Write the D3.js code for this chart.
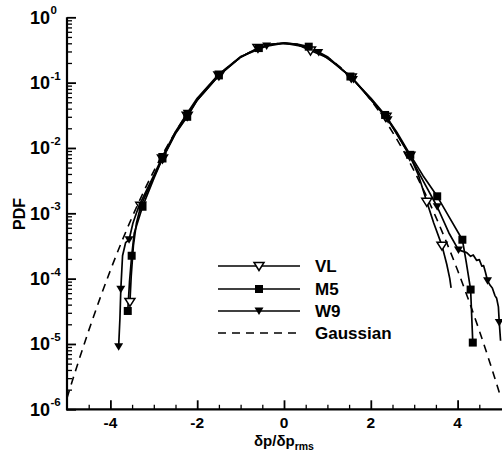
<!DOCTYPE html>
<html><head><meta charset="utf-8">
<script src="https://cdn.jsdelivr.net/npm/d3@7"></script>
<style>
body{margin:0;background:#fff;}
text{font-family:"Liberation Sans",Arial,Helvetica,sans-serif;font-weight:bold;fill:#000;}
</style></head>
<body><svg id="c" width="502" height="455"></svg>
<script>
// ---- data ----
const xTicks = [-4, -2, 0, 2, 4];
const xTickLabels = ["-4", "-2", "0", "2", "4"];
const yExponents = [0, -1, -2, -3, -4, -5, -6];
const seriesNames = ["VL", "M5", "W9", "Gaussian"];

const gaussX = [-5,-4.75,-4.5,-4.25,-4,-3.75,-3.5,-3.25,-3,-2.75,-2.5,-2.25,-2,-1.75,-1.5,-1.25,-1,-0.75,-0.5,-0.25,0,0.25,0.5,0.75,1,1.25,1.5,1.75,2,2.25,2.5,2.75,3,3.25,3.5,3.75,4,4.25,4.5,4.75,5];
const gaussY = [1.49e-6,5.03e-6,1.60e-5,4.77e-5,1.34e-4,3.53e-4,8.73e-4,2.03e-3,4.43e-3,9.09e-3,1.75e-2,3.17e-2,5.40e-2,8.63e-2,0.1295,0.1826,0.2420,0.3011,0.3521,0.3867,0.3989,0.3867,0.3521,0.3011,0.2420,0.1826,0.1295,8.63e-2,5.40e-2,3.17e-2,1.75e-2,9.09e-3,4.43e-3,2.03e-3,8.73e-4,3.53e-4,1.34e-4,4.77e-5,1.60e-5,5.03e-6,1.49e-6];

const vlX = [-3.55,-3.52,-3.47,-3.40,-3.30,-3.00,-2.80,-2.50,-2.23,-2.00,-1.50,-1.00,-0.60,-0.30,0,0.30,0.61,1.00,1.55,2.00,2.35,2.60,2.90,3.10,3.29,3.45,3.64,3.75,3.82,3.85];
const vlY = [4.4e-5,1.1e-4,3.2e-4,7.1e-4,1.3e-3,3.6e-3,6.9e-3,0.017,0.031,0.054,0.129,0.245,0.34,0.385,0.403,0.385,0.31,0.24,0.12,0.056,0.030,0.0166,0.0076,0.0038,1.5e-3,7.1e-4,3.2e-4,1.66e-4,1.0e-4,7.2e-5];
const vlMark = [1,0,0,0,1,0,1,0,1,0,1,0,1,0,0,0,1,0,1,0,1,0,1,0,1,0,1,0,0,0];

const m5X = [-3.60,-3.56,-3.51,-3.45,-3.26,-3.00,-2.80,-2.50,-2.23,-2.00,-1.50,-1.00,-0.58,-0.30,0,0.30,0.57,1.00,1.53,2.00,2.33,2.60,2.91,3.20,3.53,3.80,4.11,4.20,4.30,4.35];
const m5Y = [3.2e-5,8.9e-5,2.24e-4,5.0e-4,1.26e-3,3.4e-3,6.9e-3,0.0166,0.030,0.054,0.129,0.245,0.338,0.385,0.403,0.39,0.355,0.25,0.124,0.058,0.032,0.0174,0.00785,0.0038,0.00182,8.9e-4,3.94e-4,1.78e-4,6.8e-5,1.05e-5];
const m5Mark = [1,0,1,0,1,0,1,0,1,0,1,0,1,0,0,0,1,0,1,0,1,0,1,0,1,0,1,0,1,1];

const w9X = [-3.81,-3.78,-3.76,-3.72,-3.65,-3.57,-3.48,-3.35,-3.00,-2.80,-2.50,-2.23,-2.00,-1.50,-1.00,-0.40,0,0.40,0.80,1.20,1.60,2.00,2.40,2.90,3.20,3.53,3.80,4.02,4.21,4.30,4.36,4.44,4.50,4.56,4.60,4.64,4.69,4.75,4.80,4.86,4.90,4.94,4.96,4.99];
const w9Y = [9.1e-6,2.5e-5,6.9e-5,2.24e-4,3.55e-4,3.94e-4,7.1e-4,1.26e-3,3.8e-3,7.4e-3,0.0178,0.034,0.0575,0.135,0.25,0.363,0.403,0.363,0.29,0.19,0.112,0.055,0.027,0.0076,0.0032,1.26e-3,5.0e-4,2.75e-4,2.5e-4,2.2e-4,2.3e-4,1.9e-4,1.95e-4,1.55e-4,1.58e-4,1.26e-4,9.3e-5,7.9e-5,7.2e-5,5.5e-5,5.0e-5,3.7e-5,2.14e-5,1.12e-5];
const w9Mark = [1,0,1,0,0,1,0,0,0,1,0,1,0,1,0,1,0,0,1,0,1,0,1,0,0,1,0,1,0,0,0,0,0,0,0,0,1,0,0,0,0,0,1,0];

// ---- layout ----
const svg = d3.select("#c");
const L = 67, R = 501, T = 17.3, B = 409.3;
const x = d3.scaleLinear().domain([-5, 5]).range([L, R]);
const y = d3.scaleLog().domain([1e-6, 1]).range([B, T]);

svg.append("defs").append("clipPath").attr("id","clp")
  .append("rect").attr("x", L).attr("y", T - 5).attr("width", R - L + 2).attr("height", B - T + 5);

// axes lines
svg.append("line").attr("x1", L).attr("x2", L).attr("y1", T).attr("y2", B + 1)
  .attr("stroke", "#000").attr("stroke-width", 2.2);
svg.append("line").attr("x1", L - 1).attr("x2", 502).attr("y1", B).attr("y2", B)
  .attr("stroke", "#000").attr("stroke-width", 2.2);

// y ticks (inward)
const yMajor = yExponents.map(e => Math.pow(10, e));
svg.append("g").attr("transform", `translate(${L},0)`)
  .call(d3.axisRight(y).tickValues(yMajor).tickSize(9).tickFormat(""))
  .call(g => g.select(".domain").remove())
  .call(g => g.selectAll("line").attr("stroke-width", 1.8));
const yMinor = [];
for (let e = -6; e < 0; e++) for (let k = 2; k <= 9; k++) yMinor.push(k * Math.pow(10, e));
svg.append("g").attr("transform", `translate(${L},0)`)
  .call(d3.axisRight(y).tickValues(yMinor).tickSize(5).tickFormat(""))
  .call(g => g.select(".domain").remove())
  .call(g => g.selectAll("line").attr("stroke-width", 1.3));

// y labels with superscripts
yExponents.forEach(e => {
  svg.append("text").attr("x", 50).attr("y", y(Math.pow(10, e)) + 6.5)
    .attr("text-anchor", "end").attr("font-size", 18).text("10");
  svg.append("text").attr("x", 50.5).attr("y", y(Math.pow(10, e)) - 3)
    .attr("font-size", 11.5).text(String(e));
});

// x ticks (inward)
svg.append("g").attr("transform", `translate(0,${B})`)
  .call(d3.axisTop(x).tickValues(xTicks).tickSize(9).tickFormat(""))
  .call(g => g.select(".domain").remove())
  .call(g => g.selectAll("line").attr("stroke-width", 1.8));
const xMinor = [-4.5,-3.5,-3,-2.5,-1.5,-1,-0.5,0.5,1,1.5,2.5,3,3.5,4.5];
svg.append("g").attr("transform", `translate(0,${B})`)
  .call(d3.axisTop(x).tickValues(xMinor).tickSize(4.5).tickFormat(""))
  .call(g => g.select(".domain").remove())
  .call(g => g.selectAll("line").attr("stroke-width", 1.3));
xTicks.forEach((v, i) => {
  svg.append("text").attr("x", x(v)).attr("y", 427.5).attr("text-anchor", "middle")
    .attr("font-size", 15.5).text(xTickLabels[i]);
});

// axis titles
const xt = svg.append("text").attr("x", 254).attr("y", 446).attr("font-size", 15);
xt.append("tspan").text("δp/δp");
xt.append("tspan").attr("font-size", 10.5).attr("dy", 4).text("rms");
svg.append("text").attr("transform", "translate(25,214) rotate(-90)")
  .attr("text-anchor", "middle").attr("font-size", 16).text("PDF");

// ---- plot ----
const plot = svg.append("g").attr("clip-path", "url(#clp)");
const gline = d3.line().x(d => x(d[0])).y(d => y(d[1])).curve(d3.curveMonotoneX);
const gauss = gaussX.map((v, i) => [v, gaussY[i]]);
plot.append("path").attr("d", gline(gauss)).attr("fill", "none")
  .attr("stroke", "#000").attr("stroke-width", 1.6).attr("stroke-dasharray", "8,6");

const lineLin = d3.line().x(d => x(d[0])).y(d => y(d[1]));
const series = [
  {name: "VL", xs: vlX, ys: vlY, mk: vlMark, sym: "open"},
  {name: "M5", xs: m5X, ys: m5Y, mk: m5Mark, sym: "square"},
  {name: "W9", xs: w9X, ys: w9Y, mk: w9Mark, sym: "tri"}
];
function drawMarker(g, cx, cy, sym) {
  if (sym === "square") {
    g.append("rect").attr("x", cx - 4).attr("y", cy - 4).attr("width", 8).attr("height", 8).attr("fill", "#000");
  } else if (sym === "open") {
    g.append("path").attr("d", `M${cx-5},${cy-3.5}L${cx+5},${cy-3.5}L${cx},${cy+4.5}Z`)
      .attr("fill", "#fff").attr("stroke", "#000").attr("stroke-width", 1.5);
  } else {
    g.append("path").attr("d", `M${cx-4.5},${cy-3.5}L${cx+4.5},${cy-3.5}L${cx},${cy+4}Z`).attr("fill", "#000");
  }
}
series.forEach(s => {
  const pts = s.xs.map((v, i) => [v, s.ys[i]]);
  plot.append("path").attr("d", lineLin(pts)).attr("fill", "none")
    .attr("stroke", "#000").attr("stroke-width", 1.7).attr("stroke-linejoin", "round");
});
series.forEach(s => {
  s.xs.forEach((v, i) => { if (s.mk[i]) drawMarker(plot, x(v), y(s.ys[i]), s.sym); });
});

// ---- legend ----
const legY = [266, 289, 311, 333];
seriesNames.forEach((n, i) => {
  const ly = legY[i];
  const ln = svg.append("line").attr("x1", 218).attr("x2", 300).attr("y1", ly).attr("y2", ly)
    .attr("stroke", "#000").attr("stroke-width", 1.7);
  if (i === 3) ln.attr("stroke-dasharray", "8,6");
  else drawMarker(svg, 259, ly, series[i].sym);
  svg.append("text").attr("x", 315).attr("y", ly + 6).attr("font-size", 17).text(n);
});
</script></body></html>
